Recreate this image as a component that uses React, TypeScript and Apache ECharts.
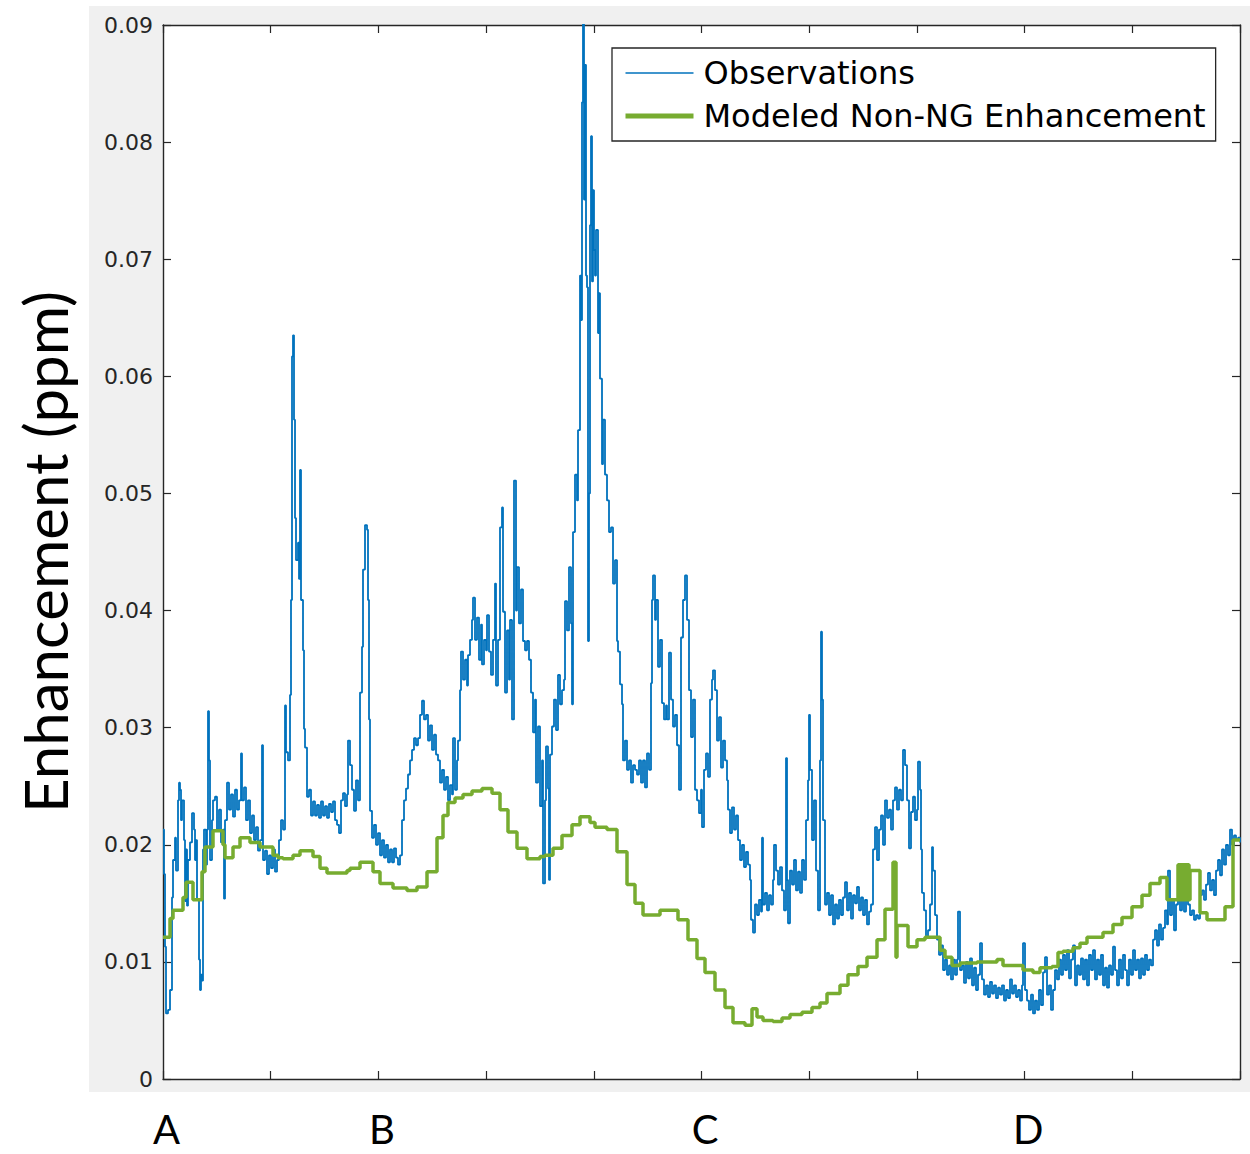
import React, { useEffect, useRef } from "react";
import * as echarts from "echarts";

// Distance along the transect (arbitrary units, A = 0 ... end = 1077)
const X_MAX = 1077;
const X_STEP = 107.7;
const xTickLabels = ["A", "", "B", "", "", "C", "", "", "D", "", ""];
const Y_MAX = 0.09;
const Y_STEP = 0.01;
const seriesNames = ["Observations", "Modeled Non-NG Enhancement"];

const observations: [number, number][] = [
[0,.0213],[1,.0175],[2,.0113],[3,.0056],[5,.0059],[7,.0076],[9,.0155],[10,.0187],[12,.0206],[13,.0178],[15,.0238],[16,.0253],[17,.0247],[18,.0221],[19,.0238],[21,.0204],[22,.0152],[23,.0196],[24,.0148],[25,.0187],[27,.0202],[29,.0227],[31,.0213],[32,.0187],[33,.0204],[34,.0153],[36,.0102],[37,.0076],[38,.0089],[39,.0084],[40,.0196],[41,.0213],[43,.0183],[44,.0213],[45,.0314],[46,.0272],[47,.0187],[49,.0221],[50,.0238],[52,.0241],[54,.0213],[56,.0230],[58,.0202],[60,.0213],[61,.0154],[62,.0221],[64,.0253],[66,.0230],[68,.0243],[70,.0224],[72,.0247],[74,.0230],[76,.0238],[78,.0278],[79,.0238],[81,.0249],[83,.0221],[85,.0238],[87,.0210],[89,.0225],[91,.0204],[93,.0215],[95,.0195],[97,.0204],[99,.0285],[100,.0187],[102,.0195],[104,.0175],[106,.0191],[108,.0180],[110,.0196],[112,.0177],[114,.0187],[116,.0204],[118,.0221],[120,.0213],[122,.0319],[123,.0279],[125,.0272],[127,.0328],[128,.0409],[129,.0617],[130,.0635],[131,.0563],[132,.0479],[133,.0443],[135,.0458],[136,.0427],[137,.0520],[138,.0409],[140,.0366],[141,.0299],[142,.0283],[144,.0241],[146,.0247],[148,.0225],[150,.0237],[152,.0225],[154,.0234],[156,.0223],[158,.0237],[160,.0225],[162,.0233],[164,.0223],[166,.0235],[168,.0228],[170,.0237],[172,.0221],[174,.0217],[176,.0210],[178,.0238],[180,.0244],[182,.0233],[184,.0243],[185,.0289],[187,.0268],[189,.0247],[191,.0229],[193,.0255],[195,.0238],[197,.0330],[199,.0369],[200,.0435],[202,.0473],[204,.0469],[205,.0409],[206,.0307],[207,.0229],[209,.0206],[211,.0217],[213,.0200],[215,.0210],[217,.0191],[219,.0204],[221,.0189],[223,.0200],[225,.0185],[227,.0196],[229,.0185],[231,.0197],[233,.0189],[235,.0183],[237,.0191],[239,.0221],[241,.0238],[243,.0248],[245,.0260],[247,.0272],[249,.0281],[251,.0291],[253,.0285],[255,.0291],[257,.0311],[259,.0323],[261,.0307],[263,.0311],[265,.0289],[267,.0302],[269,.0281],[271,.0294],[273,.0277],[275,.0272],[277,.0253],[279,.0264],[281,.0247],[283,.0258],[285,.0238],[287,.0251],[289,.0243],[290,.0291],[292,.0247],[294,.0272],[295,.0289],[297,.0332],[298,.0365],[300,.0341],[302,.0358],[304,.0336],[305,.0362],[307,.0375],[309,.0392],[310,.0411],[312,.0375],[314,.0394],[316,.0358],[318,.0388],[319,.0354],[321,.0375],[323,.0366],[324,.0396],[326,.0365],[328,.0345],[330,.0375],[332,.0423],[333,.0336],[335,.0375],[337,.0471],[339,.0488],[340,.0399],[342,.0330],[344,.0383],[346,.0341],[347,.0392],[349,.0307],[351,.0511],[353,.0400],[354,.0437],[356,.0389],[358,.0418],[360,.0374],[362,.0366],[364,.0374],[366,.0358],[368,.0330],[370,.0296],[372,.0324],[373,.0253],[375,.0301],[377,.0233],[379,.0272],[380,.0167],[382,.0238],[383,.0284],[385,.0248],[386,.0170],[387,.0277],[389,.0301],[391,.0324],[393,.0298],[395,.0345],[397,.0320],[399,.0332],[401,.0341],[402,.0408],[404,.0383],[406,.0437],[408,.0389],[409,.0320],[410,.0467],[412,.0516],[414,.0494],[415,.0554],[417,.0686],[418,.0648],[419,.0834],[420,.0905],[421,.0751],[422,.0866],[423,.0686],[424,.0676],[425,.0374],[426,.0500],[427,.0729],[428,.0805],[429,.0681],[430,.0759],[431,.0708],[432,.0686],[433,.0725],[435,.0637],[436,.0671],[437,.0598],[439,.0525],[440,.0563],[442,.0516],[444,.0494],[446,.0467],[448,.0471],[450,.0423],[452,.0443],[454,.0374],[455,.0365],[457,.0337],[459,.0320],[460,.0272],[462,.0289],[464,.0264],[466,.0272],[468,.0253],[470,.0268],[472,.0264],[474,.0260],[476,.0272],[478,.0253],[480,.0272],[482,.0249],[484,.0278],[486,.0264],[488,.0338],[489,.0409],[490,.0430],[492,.0392],[493,.0409],[495,.0352],[497,.0375],[499,.0321],[501,.0307],[503,.0319],[504,.0307],[506,.0364],[508,.0324],[510,.0301],[512,.0311],[514,.0285],[516,.0247],[518,.0377],[520,.0409],[522,.0430],[524,.0392],[526,.0332],[528,.0292],[530,.0324],[532,.0247],[534,.0238],[536,.0227],[538,.0247],[539,.0215],[541,.0264],[543,.0278],[545,.0258],[547,.0324],[549,.0341],[550,.0349],[552,.0332],[554,.0289],[556,.0309],[558,.0266],[560,.0289],[562,.0272],[564,.0255],[565,.0230],[567,.0210],[569,.0232],[571,.0213],[573,.0225],[575,.0204],[577,.0187],[579,.0200],[581,.0181],[583,.0194],[585,.0183],[587,.0170],[588,.0136],[590,.0125],[592,.0149],[594,.0140],[596,.0153],[598,.0143],[599,.0206],[600,.0149],[602,.0159],[604,.0144],[606,.0157],[608,.0149],[610,.0170],[611,.0200],[613,.0178],[615,.0166],[617,.0181],[619,.0161],[621,.0144],[623,.0274],[624,.0170],[625,.0133],[627,.0178],[629,.0166],[631,.0187],[633,.0161],[635,.0177],[637,.0159],[639,.0187],[641,.0170],[643,.0221],[645,.0255],[646,.0311],[647,.0264],[649,.0204],[651,.0238],[653,.0178],[655,.0144],[657,.0272],[658,.0382],[659,.0324],[660,.0221],[662,.0149],[664,.0159],[666,.0140],[668,.0157],[670,.0132],[672,.0149],[674,.0137],[676,.0153],[678,.0140],[680,.0155],[682,.0168],[684,.0144],[686,.0159],[688,.0137],[690,.0157],[692,.0150],[694,.0164],[696,.0144],[698,.0155],[700,.0140],[702,.0153],[704,.0132],[706,.0143],[708,.0149],[710,.0196],[712,.0215],[714,.0187],[716,.0213],[718,.0225],[720,.0200],[722,.0238],[724,.0223],[726,.0230],[728,.0213],[730,.0238],[732,.0249],[734,.0230],[736,.0247],[738,.0238],[740,.0281],[742,.0268],[744,.0238],[746,.0197],[748,.0228],[750,.0241],[752,.0221],[754,.0230],[755,.0271],[757,.0247],[758,.0196],[759,.0159],[761,.0144],[763,.0121],[765,.0127],[767,.0149],[769,.0198],[770,.0178],[772,.0140],[774,.0119],[776,.0106],[778,.0114],[780,.0093],[782,.0102],[784,.0089],[786,.0097],[788,.0085],[790,.0102],[792,.0089],[794,.0102],[795,.0143],[797,.0093],[799,.0097],[801,.0082],[803,.0100],[805,.0086],[807,.0103],[809,.0080],[811,.0095],[813,.0076],[815,.0089],[817,.0116],[819,.0085],[821,.0072],[823,.0080],[825,.0070],[827,.0083],[829,.0073],[831,.0080],[833,.0069],[835,.0078],[837,.0072],[839,.0080],[841,.0067],[843,.0076],[845,.0069],[847,.0085],[849,.0073],[851,.0080],[853,.0070],[855,.0076],[857,.0067],[859,.0080],[860,.0116],[862,.0076],[864,.0067],[866,.0059],[868,.0072],[870,.0056],[872,.0067],[874,.0059],[876,.0076],[878,.0063],[880,.0091],[882,.0104],[884,.0072],[886,.0080],[888,.0059],[890,.0076],[892,.0093],[894,.0085],[896,.0102],[898,.0089],[900,.0106],[902,.0093],[904,.0110],[906,.0086],[908,.0102],[910,.0114],[912,.0080],[914,.0097],[916,.0089],[918,.0103],[920,.0085],[922,.0102],[924,.0080],[926,.0106],[928,.0093],[930,.0110],[932,.0085],[934,.0102],[936,.0089],[938,.0106],[940,.0080],[942,.0095],[944,.0078],[946,.0097],[948,.0089],[950,.0113],[952,.0093],[954,.0080],[956,.0102],[958,.0086],[960,.0106],[962,.0093],[964,.0080],[966,.0102],[968,.0089],[970,.0110],[972,.0093],[974,.0102],[976,.0086],[978,.0103],[980,.0089],[982,.0106],[984,.0093],[986,.0102],[988,.0097],[990,.0119],[992,.0127],[994,.0114],[996,.0132],[998,.0119],[1000,.0129],[1002,.0144],[1004,.0132],[1005,.0178],[1007,.0140],[1009,.0153],[1011,.0127],[1013,.0149],[1015,.0161],[1017,.0144],[1019,.0157],[1021,.0143],[1023,.0159],[1025,.0149],[1027,.0140],[1029,.0144],[1031,.0136],[1033,.0140],[1035,.0137],[1037,.0157],[1039,.0161],[1041,.0153],[1043,.0166],[1045,.0176],[1047,.0161],[1049,.0170],[1051,.0157],[1053,.0178],[1055,.0187],[1057,.0174],[1059,.0196],[1061,.0183],[1063,.0200],[1065,.0191],[1067,.0213],[1069,.0200],[1071,.0208],[1073,.0204],[1075,.0206],[1077,.0202]
];

const modeled: [number, number][] = [
[0,.0121],[7,.0137],[10,.0144],[20,.0155],[23,.0168],[30,.0153],[39,.0177],[42,.0198],[50,.0212],[60,.0200],[62,.0189],[70,.0198],[77,.0206],[87,.0202],[97,.0198],[110,.0191],[115,.0189],[120,.0188],[130,.0191],[137,.0195],[150,.0190],[157,.0180],[164,.0176],[184,.0178],[187,.0180],[197,.0185],[210,.0177],[217,.0167],[230,.0163],[244,.0161],[254,.0164],[264,.0177],[274,.0206],[280,.0225],[285,.0236],[292,.0240],[300,.0243],[309,.0246],[319,.0248],[329,.0244],[337,.0230],[345,.0211],[354,.0197],[364,.0188],[377,.0190],[382,.0191],[390,.0197],[399,.0208],[409,.0217],[417,.0224],[427,.0219],[432,.0215],[444,.0213],[454,.0194],[464,.0166],[472,.0150],[480,.0140],[497,.0144],[515,.0136],[525,.0119],[534,.0103],[542,.0091],[552,.0076],[562,.0061],[570,.0048],[582,.0046],[589,.0060],[594,.0053],[600,.0050],[610,.0049],[619,.0052],[627,.0055],[639,.0057],[649,.0061],[657,.0065],[664,.0073],[677,.0080],[685,.0089],[695,.0096],[704,.0104],[714,.0119],[722,.0145],[730,.0185],[733,.0104],[734,.0131],[745,.0113],[754,.0119],[762,.0121],[777,.0110],[782,.0104],[789,.0097],[797,.0099],[814,.0100],[834,.0102],[840,.0097],[860,.0093],[870,.0091],[877,.0095],[889,.0096],[895,.0108],[900,.0109],[910,.0112],[917,.0116],[924,.0121],[940,.0125],[950,.0132],[959,.0138],[969,.0147],[979,.0157],[987,.0167],[997,.0172],[1004,.0153],[1015,.0183],[1016,.0153],[1017,.0183],[1018,.0153],[1019,.0183],[1020,.0153],[1021,.0183],[1022,.0153],[1023,.0183],[1024,.0153],[1025,.0183],[1026,.0153],[1027,.0178],[1037,.0142],[1044,.0136],[1062,.0147],[1070,.0204],[1077,.0204]
];

const AXIS_COLOR = "#262626";
const OBS_COLOR = "#0072BD";
const MODEL_COLOR = "#77AC30";

export default function App() {
  const ref = useRef<HTMLDivElement>(null);
  useEffect(() => {
    if (!ref.current) return;
    const chart = echarts.init(ref.current, undefined, { renderer: "svg" });
    const tickCommon = { show: true, inside: true, length: 8, lineStyle: { color: AXIS_COLOR, width: 1.2 } };
    const lineCommon = { show: true, onZero: false, lineStyle: { color: AXIS_COLOR, width: 1.4 } };
    chart.setOption({
      animation: false,
      backgroundColor: "#ffffff",
      graphic: [
        {
          type: "rect",
          z: -10,
          silent: true,
          shape: { x: 89, y: 6, width: 1161, height: 1086 },
          style: { fill: "#f0f0f0" },
        },
      ],
      grid: {
        left: 163,
        top: 25,
        right: 10,
        bottom: 75,
        show: true,
        backgroundColor: "#ffffff",
        borderWidth: 0,
      },
      legend: {
        show: true,
        orient: "vertical",
        left: 612,
        top: 48,
        padding: [9, 10, 9, 11],
        itemGap: 11,
        itemWidth: 68,
        itemHeight: 14,
        backgroundColor: "#ffffff",
        borderColor: AXIS_COLOR,
        borderWidth: 1.3,
        borderRadius: 0,
        itemStyle: { opacity: 0 },
        lineStyle: { width: "inherit" },
        textStyle: { fontFamily: "DejaVu Sans", fontSize: 32, color: "#000", padding: [0, 0, 0, 5] },
        data: [
          { name: seriesNames[0], lineStyle: { width: 1.6 } },
          { name: seriesNames[1], lineStyle: { width: 5 } },
        ],
      },
      xAxis: [
        {
          type: "value",
          position: "bottom",
          min: 0,
          max: X_MAX,
          interval: X_STEP,
          axisLine: lineCommon,
          axisTick: tickCommon,
          splitLine: { show: false },
          axisLabel: {
            show: true,
            margin: 30,
            fontFamily: "Lato",
            fontSize: 40,
            lineHeight: 40,
            color: "#000",
            padding: [0, 0, 0, 7],
            formatter: (v: number) => xTickLabels[Math.round(v / X_STEP)] ?? "",
          },
        },
        {
          type: "value",
          position: "top",
          min: 0,
          max: X_MAX,
          interval: X_STEP,
          axisLine: lineCommon,
          axisTick: tickCommon,
          splitLine: { show: false },
          axisLabel: { show: false },
        },
      ],
      yAxis: [
        {
          type: "value",
          position: "left",
          min: 0,
          max: Y_MAX,
          interval: Y_STEP,
          axisLine: lineCommon,
          axisTick: tickCommon,
          splitLine: { show: false },
          axisLabel: {
            margin: 10,
            fontFamily: "DejaVu Sans",
            fontSize: 22,
            color: AXIS_COLOR,
            formatter: (v: number) => (v === 0 ? "0" : v.toFixed(2)),
          },
          name: "Enhancement (ppm)",
          nameLocation: "middle",
          nameGap: 88,
          nameTextStyle: { fontFamily: "Lato", fontSize: 60, color: "#000" },
        },
        {
          type: "value",
          position: "right",
          min: 0,
          max: Y_MAX,
          interval: Y_STEP,
          axisLine: lineCommon,
          axisTick: tickCommon,
          splitLine: { show: false },
          axisLabel: { show: false },
        },
      ],
      series: [
        {
          name: seriesNames[0],
          type: "line",
          xAxisIndex: 0,
          yAxisIndex: 0,
          data: observations,
          step: "end",
          symbol: "none",
          showSymbol: false,
          clip: true,
          color: OBS_COLOR,
          lineStyle: { color: OBS_COLOR, width: 1.8 },
        },
        {
          name: seriesNames[1],
          type: "line",
          xAxisIndex: 0,
          yAxisIndex: 0,
          data: modeled,
          step: "end",
          symbol: "none",
          showSymbol: false,
          clip: true,
          color: MODEL_COLOR,
          lineStyle: { color: MODEL_COLOR, width: 3.5 },
        },
      ],
    });
    return () => chart.dispose();
  }, []);
  return (
    <div
      ref={ref}
      style={{ position: "absolute", left: 0, top: 0, width: 1250, height: 1154 }}
    />
  );
}
